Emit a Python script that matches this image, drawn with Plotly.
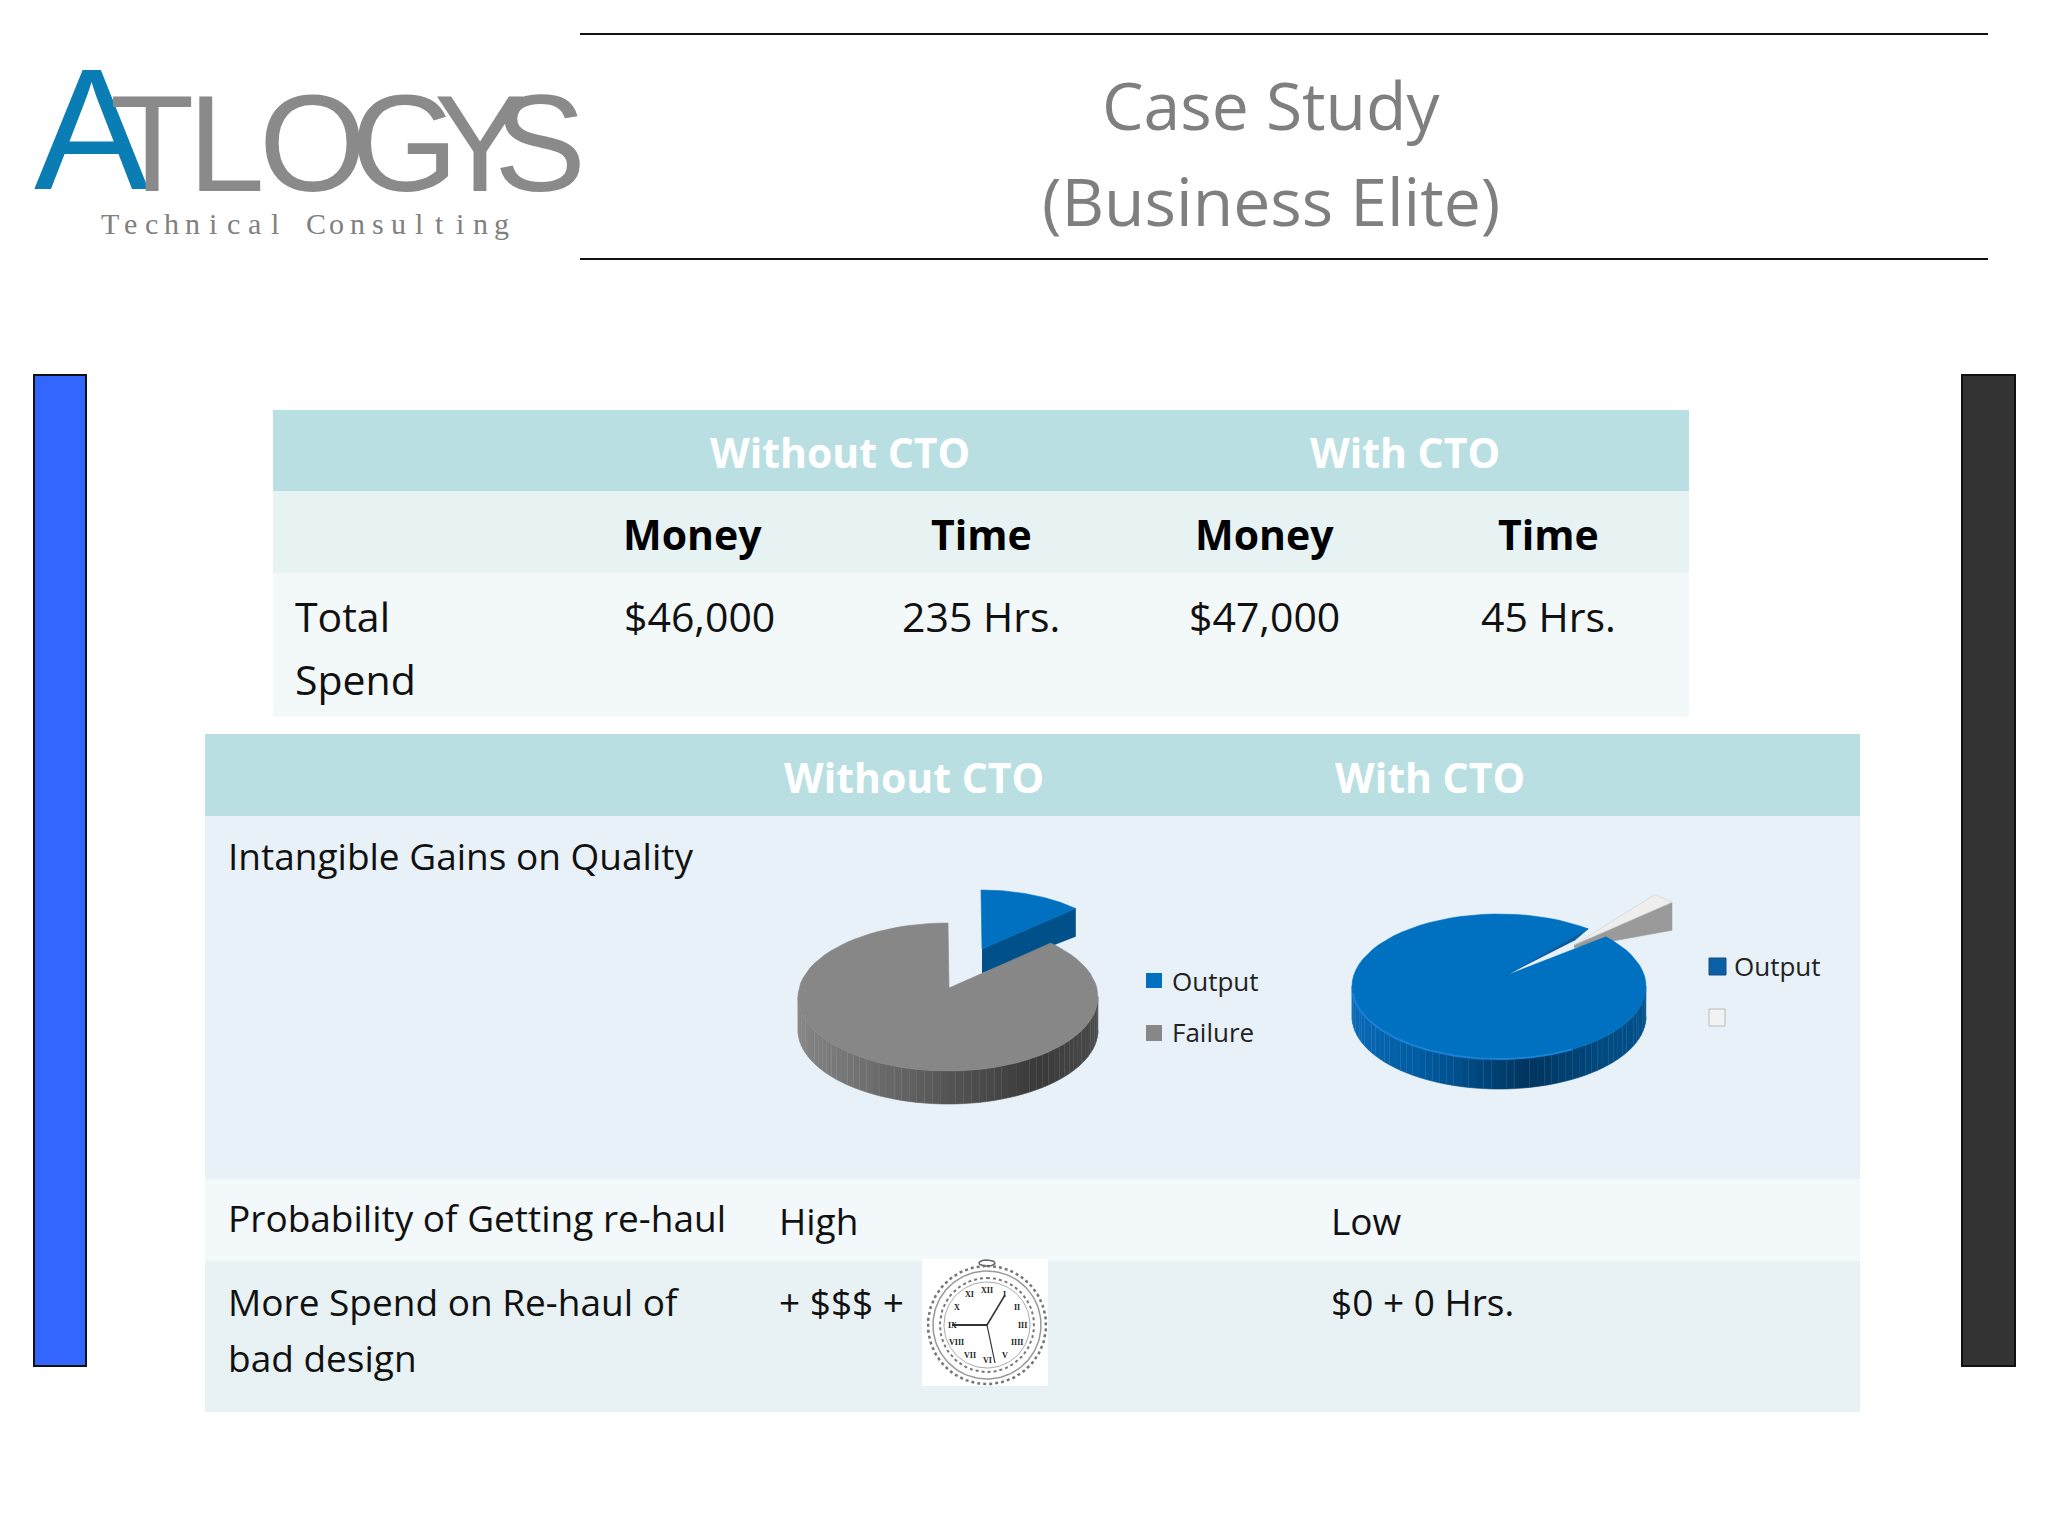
import math
import plotly.graph_objects as go

# ---- data ----
pie_labels = ["Output", "Failure"]
without_cto_share = [12, 88]
with_cto_share = [97.4, 2.6]

title_lines = ["Case Study", "(Business Elite)"]
logo_first = "A"
logo_rest = ["T", "L", "O", "G", "Y", "S"]
logo_tagline = "Technical Consulting"

group_labels = ["Without CTO", "With CTO"]
spend_columns = ["Money", "Time", "Money", "Time"]
spend_row_label = ["Total", "Spend"]
spend_values = ["$46,000", "235 Hrs.", "$47,000", "45 Hrs."]
quality_rows = ["Intangible Gains on Quality", "Probability of Getting re-haul"]
rehaul_row_label = ["More Spend on Re-haul of", "bad design"]
probability_values = ["High", "Low"]
rehaul_values = ["+ $$$ +", "$0 + 0 Hrs."]
clock_numerals = ["XII", "I", "II", "III", "IIII", "V", "VI", "VII", "VIII", "IX", "X", "XI"]

FONT = "Open Sans"
fig = go.Figure()
shapes, notes = [], []


def rect(x0, y0, x1, y1, fill, line=None, lw=0):
    shapes.append(dict(type="rect", x0=x0, y0=y0, x1=x1, y1=y1, xref="x", yref="y",
                       fillcolor=fill, line=dict(color=line or fill, width=lw), layer="below"))


def hline(x0, x1, y, color="#111111", w=2):
    shapes.append(dict(type="line", x0=x0, x1=x1, y0=y, y1=y, xref="x", yref="y",
                       line=dict(color=color, width=w), layer="below"))


def text(x, y, s, size, color="#111111", anchor="center", bold=False, family=FONT):
    notes.append(dict(x=x, y=y, xref="x", yref="y", text=f"<b>{s}</b>" if bold else s, showarrow=False,
                      xanchor=anchor, yanchor="middle",
                      font=dict(family=family, size=size, color=color)))


def poly(xs, ys, fill, line=None, lw=0.6, name=""):
    fig.add_trace(go.Scatter(x=xs, y=ys, mode="lines", fill="toself", fillcolor=fill, name=name,
                             line=dict(color=line or fill, width=lw), hoverinfo="skip", showlegend=False))


def arc(cx, cy, rx, ry, a0, a1, n=80):
    pts = [math.radians(a0 + (a1 - a0) * i / n) for i in range(n + 1)]
    return [cx + rx * math.sin(t) for t in pts], [cy - ry * math.cos(t) for t in pts]


def lerp_color(stops, f):
    for (f0, c0), (f1, c1) in zip(stops, stops[1:]):
        if f <= f1:
            k = (f - f0) / (f1 - f0)
            return "rgb(%d,%d,%d)" % tuple(c0[i] + (c1[i] - c0[i]) * k for i in range(3))
    return "rgb(%d,%d,%d)" % stops[-1][1]


def wall(cx, cy, rx, ry, depth, stops, n=60):
    for i in range(n):
        xs, ys = arc(cx, cy, rx, ry, 90 + 180 * i / n, 90 + 180 * (i + 1) / n, 3)
        f = 1 - (xs[0] + xs[-1] - 2 * (cx - rx)) / (4 * rx)
        fx = (0.5 * (xs[0] + xs[-1]) - (cx - rx)) / (2 * rx)
        poly(xs + xs[::-1], ys + [y + depth for y in ys[::-1]], lerp_color(stops, fx))


def slice_top(cx, cy, rx, ry, ax, ay, a0, a1, fill, line=None):
    xs, ys = arc(cx, cy, rx, ry, a0, a1)
    poly([cx + ax] + xs + [cx + ax], [cy + ay] + ys + [cy + ay], fill, line)


# ---- page furniture ----
hline(580, 1988, 34)
hline(580, 1988, 259)
rect(34, 375, 86, 1366, "#3366ff", "#111111", 2)
rect(1962, 375, 2015, 1366, "#333333", "#111111", 2)

for i, s in enumerate(title_lines):
    text(1271, 104 + 96 * i, s, 66, "#7f7f7f")

# logo letters
text(91, 129, logo_first, 172, "#0b7db5", family="Liberation Sans")
for ch, lx, sz in zip(logo_rest, [152, 226, 312, 404, 480, 540], [138] * 6):
    text(lx, 143, ch, sz, "#8a8a8a", family="Liberation Sans")
for i, ch in enumerate(logo_tagline):
    text(110 + i * 20.6, 223, ch, 30, "#808080", family="Liberation Sans Narrow")

# ---- spend table ----
rect(273, 410, 1689, 491, "#b9dfe3")
rect(273, 491, 1689, 573, "#e7f2f2")
rect(273, 573, 1689, 717, "#f3f8f9")
for s, x in zip(group_labels, [840, 1405]):
    text(x, 452, s, 41, "#ffffff", bold=True)
for s, x in zip(spend_columns, [692, 981, 1264, 1548]):
    text(x, 534, s, 41, "#000000", bold=True)
for s, x in zip(spend_values, [699, 981, 1264, 1548]):
    text(x, 616, s, 41)
for i, s in enumerate(spend_row_label):
    text(293, 616 + 63 * i, s, 41, anchor="left")

# ---- quality table ----
rect(205, 734, 1860, 816, "#b9dfe3")
rect(205, 816, 1860, 1179, "#e8f1f7")
rect(205, 1179, 1860, 1261, "#f3f8fb")
rect(205, 1261, 1860, 1412, "#e8f2f5")
for s, x in zip(group_labels, [914, 1430]):
    text(x, 777, s, 41, "#ffffff", bold=True)
for s, y in zip(quality_rows, [855, 1217]):
    text(226, y, s, 37, anchor="left")
for s, x in zip(probability_values, [777, 1329]):
    text(x, 1220, s, 37, anchor="left")
for s, y in zip(rehaul_row_label, [1301, 1357]):
    text(226, y, s, 37, anchor="left")
for s, x in zip(rehaul_values, [777, 1329]):
    text(x, 1301, s, 37, anchor="left")

# ---- pie 1: without CTO ----
GREY = [(0, (133, 133, 133)), (0.5, (85, 85, 85)), (0.8, (58, 58, 58)), (1, (74, 74, 74))]
BLUE = [(0, (10, 106, 184)), (0.25, (0, 90, 158)), (0.6, (0, 53, 95)), (0.85, (0, 74, 128)), (1, (0, 80, 138))]

out_deg = 360 * without_cto_share[0] / sum(without_cto_share)
bx, by, brx, bry = 981, 958, 138, 68
ex, ey = arc(bx, by, brx, bry, out_deg, out_deg, 1)
poly([bx + 1, ex[0], ex[0], bx + 1], [by - 9, ey[0], ey[0] + 28, by + 15], "#00508a")
slice_top(bx, by, brx, bry, 1, -9, 0, out_deg, "#0070c0")

cx, cy, rx, ry = 948, 997, 150, 74
wall(cx, cy, rx, ry, 33, GREY)
slice_top(cx, cy, rx, ry, 1, -9, out_deg, 360, "#878787")

# ---- pie 2: with CTO ----
rot = 46.7
gap_deg = 360 * with_cto_share[1] / sum(with_cto_share)
gx, gy, grx, gry = 1565, 952, 147, 72.5
ex, ey = arc(gx, gy, grx, gry, rot, rot, 1)
poly([gx + 9, ex[0], ex[0], gx + 9], [gy - 7, ey[0], ey[0] + 28, gy - 4], "#9a9a9a")
slice_top(gx, gy, grx, gry, 9, -7, rot - gap_deg, rot, "#eeeeee", "#cccccc")

cx, cy, rx, ry = 1499, 986.5, 147, 72.5
wall(cx, cy, rx, ry, 30, BLUE)
slice_top(cx, cy, rx, ry, 7, -11, rot, rot + 360 * with_cto_share[0] / sum(with_cto_share), "#0070c0")
rimx, rimy = arc(cx, cy, rx, ry, 150, 265)
fig.add_trace(go.Scatter(x=rimx, y=rimy, mode="lines", line=dict(color="#1a82d4", width=2),
                         hoverinfo="skip", showlegend=False))
ex, ey = arc(cx, cy, rx, ry, rot - gap_deg, rot - gap_deg, 1)
poly([cx + 7, ex[0], ex[0] - 14], [cy - 11, ey[0], ey[0] + 12], "#0a5a9e")

# ---- legends ----
rect(1146, 973, 1162, 988, "#0070c0")
rect(1146, 1025, 1162, 1041, "#878787")
for s, y in zip(pie_labels, [981, 1032]):
    text(1170, y, s, 26, "#222222", anchor="left")
rect(1709, 958, 1726, 975, "#0b5fa5", "#1c4f7c", 1)
rect(1709, 1009, 1725, 1026, "#f2f2f2", "#bbbbbb", 1)
text(1732, 966, pie_labels[0], 26, "#222222", anchor="left")

# ---- clock ----
rect(922, 1259, 1048, 1386, "#ffffff")
kx, ky = 987, 1325
for r, col, w, dash in [(59, "#777777", 2.5, "dot"), (54, "#999999", 1.5, "solid"),
                        (47, "#777777", 2, "dot"), (43, "#aaaaaa", 1, "solid")]:
    xs, ys = arc(kx, ky, r, r, 0, 360, 120)
    fig.add_trace(go.Scatter(x=xs, y=ys, mode="lines", line=dict(color=col, width=w, dash=dash),
                             hoverinfo="skip", showlegend=False))
for i, s in enumerate(clock_numerals):
    t = math.radians(30 * i)
    text(kx + 35 * math.sin(t), ky - 35 * math.cos(t), s, 8, "#222222", family="Liberation Sans Narrow", bold=True)
for hx, hy, w in [(952, 1325, 2), (1005, 1295, 1.5), (995, 1363, 1.2)]:
    fig.add_trace(go.Scatter(x=[kx, hx], y=[ky, hy], mode="lines", line=dict(color="#333333", width=w),
                             hoverinfo="skip", showlegend=False))
xs, ys = arc(kx, 1263, 8, 3, 0, 360, 30)
fig.add_trace(go.Scatter(x=xs, y=ys, mode="lines", line=dict(color="#666666", width=1.5),
                         hoverinfo="skip", showlegend=False))

fig.update_layout(width=2048, height=1536, margin=dict(l=0, r=0, t=0, b=0), autosize=False,
                  plot_bgcolor="#ffffff", paper_bgcolor="#ffffff", showlegend=False,
                  xaxis=dict(range=[0, 2048], visible=False, fixedrange=True),
                  yaxis=dict(range=[1536, 0], visible=False, fixedrange=True),
                  shapes=shapes, annotations=notes)
fig.write_html("out.html", post_script="document.body.style.margin='0';", config={"displayModeBar": False})
